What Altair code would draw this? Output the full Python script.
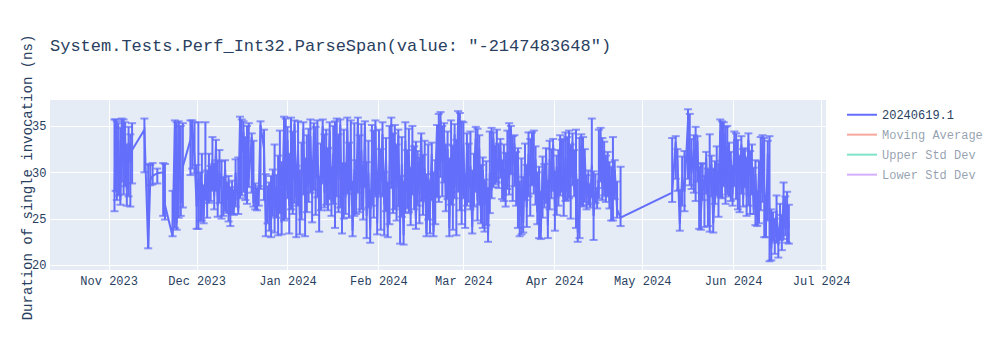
import altair as alt
import pandas as pd

# ---- data (days since 2023-11-01, median, min, max) ----
days_a = [2.0, 2.4, 2.8, 3.3, 4.0, 4.5, 5.1, 5.6, 6.2, 6.8, 7.4, 8.0, 12.2, 13.5, 14.2, 15.0, 16.6, 18.6, 19.2, 21.8,
          22.6, 23.2, 23.9, 24.6, 25.3, 27.9, 28.5, 29.3, 30.0, 30.6, 31.2, 31.8, 32.4, 33.0, 33.6, 34.2, 34.8, 35.4, 36.0, 36.6,
          37.2, 37.8]
vals_a = [27.8, 35.0, 29.5, 33.6, 27.0, 35.2, 30.5, 34.0, 28.1, 33.2, 31.0, 32.4, 34.6, 21.8, 29.2, 29.6, 29.9, 30.0, 26.5, 23.1,
          35.3, 24.5, 35.1, 26.7, 30.6, 33.5, 35.2, 31.5, 26.3, 29.3, 27.0, 28.9, 25.3, 29.8, 26.5, 30.5, 27.9, 31.4, 27.4, 32.8,
          26.4, 30.1]
lows_a = [25.8, 28.0, 27.0, 27.5, 26.5, 29.0, 27.6, 28.5, 26.4, 27.4, 26.3, 28.8, 30.0, 21.8, 28.6, 28.7, 28.8, 25.3, 24.9, 23.1,
          24.0, 23.8, 25.1, 25.3, 26.2, 29.7, 30.4, 29.9, 23.9, 23.9, 24.7, 24.8, 24.5, 27.0, 25.1, 26.7, 26.9, 28.1, 26.0, 28.0,
          25.2, 26.7]
highs_a = [35.7, 35.7, 35.5, 35.3, 34.8, 35.8, 35.7, 35.4, 33.0, 34.9, 34.1, 35.3, 35.8, 30.9, 30.8, 31.0, 30.4, 31.0, 30.9, 28.0,
           35.6, 35.4, 35.5, 35.0, 35.3, 35.6, 35.6, 35.4, 30.8, 35.4, 30.0, 32.0, 28.6, 35.4, 30.2, 32.0, 30.7, 33.8, 30.9, 33.5,
           31.3, 32.4]

days_b = [38.5, 39.1, 39.7, 40.3, 40.9, 41.5, 42.1, 42.7, 43.3, 44.2, 44.8, 45.4, 46.0, 46.6, 47.2, 47.8, 48.8, 49.4, 50.0, 50.6,
          51.2, 51.8, 53.0, 53.6, 54.2, 54.8, 55.4, 56.0, 56.6, 57.2, 57.8, 58.4, 59.0, 59.8, 60.4, 61.0, 61.6, 62.2, 62.8, 63.4,
          64.0, 64.6, 65.2, 65.8, 66.4, 67.0, 67.6, 68.2, 68.8, 69.4, 70.0, 70.6, 71.2, 71.8, 72.4, 73.0, 73.6, 74.2, 74.8, 75.4,
          76.0, 76.6]
vals_b = [28.2, 26.5, 30.4, 27.1, 29.0, 25.6, 28.3, 26.0, 30.0, 25.9, 35.5, 32.1, 34.4, 27.8, 33.2, 29.3, 33.8, 26.7, 27.5, 26.1,
          27.8, 35.1, 32.5, 24.3, 26.0, 28.7, 24.8, 29.9, 25.8, 28.5, 25.4, 30.7, 24.6, 34.6, 28.0, 33.5, 26.4, 31.8, 29.1, 35.2,
          27.3, 32.4, 25.4, 29.7, 34.7, 26.7, 31.3, 28.4, 33.9, 27.5, 34.3, 29.3, 33.2, 26.0, 30.7, 35.0, 27.8, 32.7, 28.9, 34.5,
          26.8, 32.0]
lows_b = [25.0, 25.3, 25.8, 25.6, 24.7, 24.2, 25.5, 25.4, 26.3, 25.5, 27.2, 27.5, 27.9, 27.0, 26.6, 28.4, 27.8, 26.3, 26.0, 25.9,
          26.4, 28.2, 27.0, 23.1, 24.5, 23.7, 23.0, 25.3, 23.5, 25.1, 23.2, 25.6, 23.3, 24.8, 25.0, 27.2, 23.4, 26.0, 25.5, 26.7,
          23.0, 26.4, 23.3, 24.9, 27.6, 23.1, 25.7, 26.8, 27.8, 24.6, 28.1, 25.4, 27.3, 23.6, 25.9, 28.8, 26.2, 26.5, 25.9, 27.1,
          25.3, 26.6]
highs_b = [31.2, 29.5, 31.3, 28.9, 29.6, 28.4, 29.1, 28.1, 31.4, 31.6, 36.0, 35.7, 35.5, 33.8, 35.0, 35.3, 34.2, 33.4, 28.8, 28.3,
           28.5, 35.5, 34.6, 29.8, 28.5, 28.9, 29.6, 30.3, 33.0, 29.7, 31.8, 34.5, 31.1, 36.0, 35.8, 34.9, 32.0, 35.9, 34.4, 35.6,
           30.7, 35.5, 30.2, 33.2, 35.4, 31.5, 34.0, 34.7, 35.7, 31.2, 35.3, 34.9, 35.6, 29.5, 33.1, 35.7, 34.1, 34.6, 32.6, 35.4,
           30.5, 35.0]

days_c = [77.2, 77.8, 78.4, 79.0, 79.6, 80.2, 80.8, 81.4, 82.0, 82.6, 83.2, 83.8, 84.4, 85.0, 85.6, 86.2, 86.8, 87.4, 88.0, 88.6,
          89.2, 89.8, 90.4, 91.0, 91.6, 92.2, 92.8, 93.4, 94.0, 94.6, 95.2, 95.8, 96.4, 97.0, 97.6, 98.2, 98.8, 99.4, 100.0, 100.6,
          101.2, 101.8, 102.4, 103.0, 103.6, 104.2, 104.8, 105.4, 106.0, 106.6, 107.2, 107.8, 108.4, 109.0, 109.6, 110.2, 110.8,
          111.4, 112.0, 112.6, 113.2, 113.8, 114.4, 115.0, 115.6]
vals_c = [25.6, 33.9, 29.2, 35.1, 24.8, 31.0, 27.3, 34.6, 26.2, 33.0, 23.7, 30.3, 27.0, 35.4, 28.1, 32.4, 26.3, 34.9, 25.3, 30.0,
          23.8, 31.7, 27.6, 35.0, 24.5, 33.0, 28.9, 34.1, 26.5, 31.6, 24.0, 29.9, 35.2, 27.4, 33.2, 28.3, 34.0, 24.7, 30.9, 23.2,
          33.4, 27.8, 31.9, 25.4, 33.0, 29.2, 24.9, 31.2, 27.7, 33.8, 26.3, 30.4, 23.4, 29.4, 26.6, 32.0, 23.6, 28.9, 34.9, 30.2,
          35.6, 31.1, 34.0, 27.0, 32.5]
lows_c = [24.0, 27.4, 25.7, 26.2, 23.4, 25.0, 25.5, 27.7, 25.1, 28.1, 23.1, 25.3, 25.5, 27.8, 25.7, 26.0, 24.9, 28.4, 22.9, 26.2,
          22.4, 26.4, 25.1, 27.4, 23.3, 27.6, 23.8, 27.4, 23.2, 25.8, 23.0, 24.4, 28.3, 25.6, 26.0, 24.8, 26.3, 22.3, 25.2, 22.2,
          25.6, 26.1, 25.7, 24.3, 27.6, 26.0, 23.9, 26.4, 24.5, 26.9, 25.4, 27.1, 23.1, 24.9, 23.4, 27.0, 23.1, 24.4, 27.3, 26.8,
          29.5, 27.4, 28.9, 25.8, 27.1]
highs_c = [35.5, 35.8, 34.1, 35.7, 31.0, 34.6, 30.9, 35.9, 33.2, 35.6, 29.0, 35.3, 31.3, 35.9, 34.0, 35.2, 30.7, 35.5, 31.1, 33.4,
           28.0, 35.1, 34.5, 35.6, 30.1, 34.6, 32.5, 35.4, 30.0, 33.7, 28.9, 35.0, 35.9, 34.2, 35.1, 33.0, 34.6, 29.6, 33.8, 29.0,
           35.4, 32.4, 34.7, 30.5, 35.0, 32.8, 33.3, 32.3, 31.6, 34.2, 31.9, 33.4, 29.8, 33.0, 29.1, 33.2, 30.0, 31.3, 35.1, 36.3,
           36.5, 35.0, 35.3, 33.0, 34.4]

days_d = [116.2, 116.8, 117.4, 118.0, 118.6, 119.2, 119.8, 120.4, 121.0, 121.6, 122.2, 122.8, 123.4, 124.0, 124.6, 125.2, 125.8,
          126.4, 127.0, 127.6, 128.2, 128.8, 129.4, 130.0, 130.6, 131.2, 131.8, 132.4, 133.0, 133.6, 134.2, 134.8, 135.4, 136.0,
          136.6, 137.2, 137.8, 138.4, 139.0, 139.6, 140.2, 140.8, 141.4, 142.0, 142.6, 143.2, 143.8, 144.4, 145.0, 145.6, 146.2,
          146.8, 147.4, 148.0, 148.6, 149.2, 149.8, 150.4, 151.0, 151.6, 152.2, 152.8, 153.4, 154.0, 154.6]
vals_d = [24.0, 31.8, 26.9, 34.1, 28.4, 35.8, 30.6, 27.5, 33.0, 25.7, 32.3, 28.2, 30.7, 24.1, 29.6, 33.7, 27.0, 32.6, 25.3, 30.3,
          26.4, 29.0, 23.2, 30.0, 28.0, 33.7, 29.1, 31.5, 29.9, 32.8, 28.6, 30.4, 27.4, 32.1, 29.3, 34.6, 30.8, 33.1, 28.6, 31.2,
          25.3, 28.8, 24.6, 31.3, 26.2, 32.0, 29.6, 33.9, 28.5, 31.4, 25.7, 29.4, 23.5, 30.3, 27.0, 32.0, 24.3, 31.4, 28.2, 33.0,
          25.8, 30.6, 27.2, 33.3, 29.0]
lows_d = [23.1, 26.5, 23.8, 27.2, 23.2, 27.9, 25.9, 24.4, 27.2, 24.0, 26.4, 26.8, 26.0, 23.4, 26.3, 27.9, 24.8, 26.5, 24.5, 24.0,
          23.6, 24.3, 22.5, 25.6, 27.2, 28.4, 28.7, 28.9, 28.3, 29.4, 27.1, 26.9, 26.3, 28.2, 27.6, 29.8, 26.9, 28.5, 26.4, 24.0,
          23.1, 23.3, 23.5, 27.0, 24.1, 27.4, 25.3, 28.6, 27.7, 26.5, 24.4, 22.9, 22.8, 25.1, 26.2, 26.7, 22.9, 26.0, 27.2, 28.0,
          23.7, 25.4, 26.4, 27.5, 27.9]
highs_d = [31.5, 35.6, 32.9, 35.2, 33.5, 36.6, 36.4, 35.5, 35.4, 29.8, 34.2, 33.1, 34.4, 30.2, 32.0, 34.9, 34.7, 34.0, 30.8, 31.6,
           29.2, 31.2, 28.3, 34.4, 34.8, 34.3, 32.9, 34.6, 33.1, 33.6, 31.3, 33.0, 32.1, 34.5, 35.3, 35.0, 33.9, 34.0, 32.2, 32.6,
           29.0, 31.5, 29.5, 33.1, 30.8, 34.3, 33.6, 34.3, 34.5, 32.8, 30.0, 30.6, 27.9, 31.7, 30.9, 32.6, 29.1, 33.4, 32.5, 33.6,
           30.1, 31.8, 32.4, 34.0, 33.5]

days_e = [155.2, 155.8, 156.4, 157.0, 157.6, 158.2, 158.8, 159.4, 160.0, 160.6, 161.2, 161.8, 162.4, 163.0, 163.6, 164.2, 164.8,
          165.4, 166.0, 166.6, 167.2, 167.8, 168.4, 169.0, 169.6, 170.2, 170.8, 171.4, 172.0, 172.6, 173.4, 174.6]
vals_e = [26.8, 31.5, 27.9, 32.7, 29.4, 33.3, 28.1, 30.5, 23.5, 25.3, 32.9, 26.8, 31.6, 27.3, 28.9, 26.4, 30.8, 25.3, 28.0, 26.6,
          30.0, 33.8, 28.2, 32.4, 27.8, 31.2, 26.9, 29.6, 27.5, 30.3, 26.0, 25.1]
lows_e = [25.3, 26.9, 27.0, 27.2, 25.0, 28.6, 27.4, 24.0, 22.5, 22.9, 26.4, 26.3, 26.8, 26.0, 26.5, 26.2, 27.3, 22.7, 26.7, 26.1,
          27.2, 29.0, 27.0, 27.5, 26.8, 27.4, 26.1, 24.8, 24.8, 27.1, 25.1, 24.2]
highs_e = [33.6, 34.3, 33.8, 34.5, 33.0, 34.2, 32.4, 34.6, 29.2, 33.7, 34.1, 33.8, 32.5, 29.7, 30.2, 28.7, 35.8, 30.1, 29.8, 28.3,
           34.6, 34.8, 33.7, 33.3, 31.8, 32.2, 31.1, 30.6, 33.8, 31.3, 29.0, 30.6]

days_f = [192.2, 193.4, 194.0, 194.8, 195.6, 196.4, 197.6, 198.2, 198.8, 199.6, 200.2, 200.8, 201.4, 202.0, 202.6, 203.2, 203.8,
          204.4, 205.0, 205.6, 206.2, 206.8, 207.4, 208.0, 208.6, 209.2, 209.8, 210.4, 211.0, 211.6, 212.2, 212.8, 213.4, 214.0,
          214.6, 215.2, 215.8, 216.4, 217.0, 217.6, 218.2, 218.8, 219.4, 220.0, 220.6, 221.2, 221.8, 222.4, 223.0, 223.6, 224.2,
          224.8, 225.4, 226.0, 226.6, 227.2, 227.8, 228.4, 229.0, 229.6, 230.2, 230.8, 231.4, 232.0]
vals_f = [27.8, 33.3, 31.2, 24.4, 29.5, 27.9, 35.6, 31.8, 29.9, 32.5, 30.1, 33.4, 27.0, 25.6, 29.2, 28.0, 31.6, 26.1, 28.7, 30.9,
          24.5, 28.0, 30.2, 27.3, 34.5, 28.7, 34.2, 27.8, 32.9, 29.2, 31.4, 27.6, 33.6, 29.8, 32.1, 28.2, 33.0, 27.1, 31.8, 27.4,
          33.5, 29.5, 31.0, 26.0, 29.8, 25.0, 30.1, 27.8, 33.2, 28.4, 24.3, 32.0, 25.6, 21.8, 24.4, 23.0, 25.9, 22.1, 24.8, 23.3,
          27.3, 23.9, 26.4, 24.0]
lows_f = [26.8, 29.3, 28.0, 23.7, 26.4, 25.8, 29.3, 28.6, 28.2, 27.8, 26.9, 29.0, 23.9, 23.8, 27.0, 24.1, 27.7, 24.2, 23.6, 27.4,
          23.5, 26.6, 27.5, 25.2, 27.3, 27.2, 28.5, 26.6, 27.6, 27.4, 26.9, 26.4, 28.5, 27.1, 26.0, 25.7, 27.7, 26.3, 28.4, 25.3,
          26.4, 25.5, 27.6, 25.5, 24.3, 24.2, 24.5, 25.9, 26.8, 23.0, 23.0, 24.8, 20.4, 20.5, 22.6, 21.2, 22.4, 20.8, 22.7, 21.6,
          22.8, 23.2, 22.4, 22.3]
highs_f = [33.7, 33.9, 32.5, 28.1, 31.7, 32.3, 36.8, 36.3, 33.6, 34.0, 34.9, 33.9, 30.6, 31.0, 30.9, 29.6, 32.2, 30.4, 34.1, 31.8,
           30.4, 31.2, 32.8, 30.9, 35.7, 35.5, 35.4, 34.9, 35.0, 33.2, 32.2, 30.7, 34.4, 34.2, 33.5, 31.8, 33.9, 32.5, 32.6, 31.6,
           34.2, 32.3, 33.0, 30.5, 31.3, 27.9, 31.2, 33.8, 34.0, 33.7, 27.5, 33.4, 33.9, 26.0, 25.7, 25.0, 27.5, 23.9, 26.6, 25.4,
           28.9, 27.4, 27.9, 26.5]

series_names = ["20240619.1", "Moving Average", "Upper Std Dev", "Lower Std Dev"]
series_colors = ["#636efa", "#EF553B", "#00cc96", "#ab63fa"]
y_ticks = [20, 25, 30, 35]
x_tick_months = [(2023, 11), (2023, 12), (2024, 1), (2024, 2), (2024, 3), (2024, 4), (2024, 5), (2024, 6), (2024, 7)]
title_text = 'System.Tests.Perf_Int32.ParseSpan(value: "-2147483648")'
y_title = "Duration of single invocation (ns)"

days = days_a + days_b + days_c + days_d + days_e + days_f
vals = vals_a + vals_b + vals_c + vals_d + vals_e + vals_f
lows = lows_a + lows_b + lows_c + lows_d + lows_e + lows_f
highs = highs_a + highs_b + highs_c + highs_d + highs_e + highs_f
assert len(days) == len(vals) == len(lows) == len(highs)

start = pd.Timestamp("2023-11-01")
df = pd.DataFrame({
    "date": (start + pd.to_timedelta(days, unit="D")).strftime("%Y-%m-%dT%H:%M:%S"),
    "value": vals, "low": lows, "high": highs, "series": series_names[0],
})

FONT = "Liberation Mono"
TXT = "#2a3f5f"
MAIN = series_colors[0]

xscale = alt.Scale(domain=[alt.DateTime(year=2023, month=10, date=12),
                           alt.DateTime(year=2024, month=7, date=2, hours=16)])
xaxis = alt.Axis(title=None, format="%b %Y", labelAngle=0,
                 values=[alt.DateTime(year=y, month=m, date=1) for y, m in x_tick_months],
                 grid=True, gridColor="white", gridWidth=1, domain=False, ticks=False,
                 labelPadding=5, labelFont=FONT, labelFontSize=12, labelColor=TXT)
yscale = alt.Scale(domain=[19.46, 37.8], nice=False, zero=False)
yaxis = alt.Axis(title=y_title, values=y_ticks, grid=True, gridColor="white", gridWidth=1,
                 domain=False, ticks=False, labelPadding=4, labelFont=FONT, labelFontSize=12,
                 labelColor=TXT, titleFont=FONT, titleFontSize=14, titleColor=TXT,
                 titleFontWeight="normal", titleX=-23, titleY=77, titleAngle=270,
                 titleAlign="center", titleBaseline="middle")

base = alt.Chart(df).encode(x=alt.X("date:T", scale=xscale, axis=xaxis))

bars = base.mark_rule(color=MAIN, strokeWidth=2).encode(
    y=alt.Y("low:Q", scale=yscale, axis=yaxis), y2="high:Q")
cap_lo = base.mark_tick(color=MAIN, orient="horizontal", size=8, thickness=2).encode(
    y=alt.Y("low:Q", scale=yscale, axis=yaxis))
cap_hi = base.mark_tick(color=MAIN, orient="horizontal", size=8, thickness=2).encode(
    y=alt.Y("high:Q", scale=yscale, axis=yaxis))

op_expr = "datum.value == '20240619.1' ? 1 : 0.5"
line = base.mark_line(strokeWidth=2).encode(
    y=alt.Y("value:Q", scale=yscale, axis=yaxis),
    color=alt.Color("series:N", scale=alt.Scale(domain=series_names, range=series_colors),
                    legend=alt.Legend(title=None, orient="none", legendX=796, legendY=5,
                                      symbolType="stroke", symbolSize=900, symbolStrokeWidth=2,
                                      labelFont=FONT, labelFontSize=12, labelColor=TXT,
                                      labelOffset=4, rowPadding=0, clipHeight=19.3, padding=0,
                                      symbolOpacity=alt.ExprRef(expr=op_expr),
                                      labelOpacity=alt.ExprRef(expr=op_expr))),
)

chart = alt.layer(bars, cap_lo, cap_hi, line).properties(
    width=776, height=170,
    title=alt.TitleParams(title_text, anchor="start", frame="group", font=FONT, fontSize=17,
                          fontWeight="normal", color=TXT, offset=-21),
    autosize=alt.AutoSizeParams(type="none"),
    padding={"left": 50, "top": 100, "right": 174, "bottom": 80},
    background="white",
).configure_view(fill="#e5ecf6", stroke=None)

chart.save("out.html", embed_options={"renderer": "svg", "actions": False})
